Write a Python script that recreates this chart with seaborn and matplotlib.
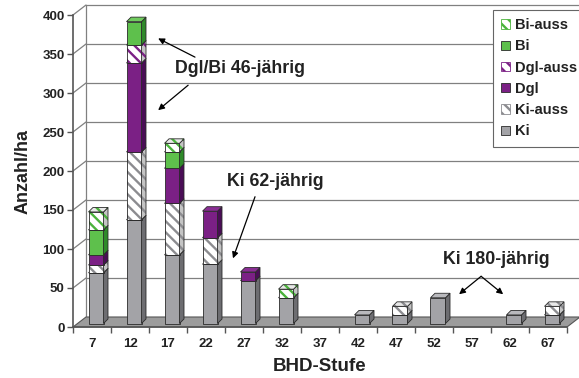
import matplotlib
matplotlib.use("Agg")
import matplotlib.pyplot as plt
from matplotlib.patches import Polygon, Patch
import seaborn as sns

# Diameter classes (BHD-Stufe) and stem numbers per hectare
stufen = [7, 12, 17, 22, 27, 32, 37, 42, 47, 52, 57, 62, 67]
ki = [65, 133, 88, 76, 55, 33, 0, 11, 11, 33, 0, 11, 11]
ki_auss = [10, 87, 66, 34, 0, 0, 0, 0, 11, 0, 0, 0, 11]
dgl = [13, 114, 45, 34, 11, 0, 0, 0, 0, 0, 0, 0, 0]
dgl_auss = [0, 23, 0, 0, 0, 0, 0, 0, 0, 0, 0, 0, 0]
bi = [32, 30, 21, 0, 0, 0, 0, 0, 0, 0, 0, 0, 0]
bi_auss = [23, 0, 11, 0, 0, 11, 0, 0, 0, 0, 0, 0, 0]

y_ticks = [0, 50, 100, 150, 200, 250, 300, 350, 400]

sns.set_theme(style="white")
plt.rcParams["font.family"] = ["Liberation Sans", "DejaVu Sans"]
plt.rcParams["font.weight"] = "bold"
plt.rcParams["hatch.linewidth"] = 1.7

GRAY = ("#a3a3a7", "#6d6d71", "#b9b9bd")
PURPLE = ("#7b2085", "#4a0d56", "#8a2e94")
GREEN = ("#5ec04c", "#2f8a2a", "#70cc5e")

# name, values, (front, side, top), hatch colour or None
series = [
    ("Ki", ki, GRAY, None),
    ("Ki-auss", ki_auss, GRAY, "#8c8c90"),
    ("Dgl", dgl, PURPLE, None),
    ("Dgl-auss", dgl_auss, PURPLE, "#7b2085"),
    ("Bi", bi, GREEN, None),
    ("Bi-auss", bi_auss, GREEN, "#4bb33c"),
]
HATCH = "\\\\\\"
OUTLINE = "#2a2a2a"

W, H = 579, 378
fig = plt.figure(figsize=(W / 100, H / 100), dpi=100)
ax_l, ax_b, ax_w, ax_h = 73, 327, 494, 312
ax = fig.add_axes([ax_l / W, (H - ax_b) / H, ax_w / W, ax_h / H])
n = len(stufen)
ax.set_xlim(-0.5, n - 0.5)
ax.set_ylim(0, 400)
PX = ax_w / n          # pixels per category
PY = ax_h / 400        # pixels per unit


def off(dx, dy):
    return dx / PX, dy / PY


# walls and floor of the 3D frame
WX, WY = off(13, 10)
wall_kw = dict(color="#808080", lw=0.9, clip_on=False, zorder=1)
for v in y_ticks[1:]:
    ax.plot([-0.5 + WX, n - 0.5 + WX], [v + WY, v + WY], **wall_kw)
    ax.plot([-0.5, -0.5 + WX], [v, v + WY], **wall_kw)
ax.plot([-0.5 + WX, -0.5 + WX], [WY, 400 + WY], **wall_kw)
floor = Polygon([(-0.5, 0), (n - 0.5, 0), (n - 0.5 + WX, WY), (-0.5 + WX, WY)],
                closed=True, facecolor="#9c9c9c", edgecolor="#555555", lw=0.8,
                clip_on=False, zorder=2)
ax.add_patch(floor)

# stacked 3D columns
BX, BY = off(4, 3.5)
DX, DY = off(4.5, 4.5)
BW = 15 / PX


def face(pts, fc, z, hc=None):
    if hc is None:
        ax.add_patch(Polygon(pts, closed=True, facecolor=fc, edgecolor=OUTLINE,
                             lw=0.6, clip_on=False, zorder=z))
    else:
        ax.add_patch(Polygon(pts, closed=True, facecolor=fc, edgecolor=hc,
                             hatch=HATCH, lw=0, clip_on=False, zorder=z))
        ax.add_patch(Polygon(pts, closed=True, fill=False, edgecolor=OUTLINE,
                             lw=0.6, clip_on=False, zorder=z))


bottom = [0.0] * n
for k, (name, vals, (fc, sc, tc), hc) in enumerate(series):
    z = 3 + k
    idx = [i for i in range(n) if vals[i] > 0]
    xs = [i + BX for i in idx]
    hs = [vals[i] for i in idx]
    bs = [bottom[i] + BY for i in idx]
    if hc is None:
        ax.bar(xs, hs, bottom=bs, width=BW, color=fc, edgecolor=OUTLINE,
               linewidth=0.6, zorder=z, clip_on=False)
    else:
        ax.bar(xs, hs, bottom=bs, width=BW, color="white", edgecolor=hc,
               hatch=HATCH, linewidth=0, zorder=z, clip_on=False)
        ax.bar(xs, hs, bottom=bs, width=BW, fill=False, edgecolor=OUTLINE,
               linewidth=0.6, zorder=z, clip_on=False)
    for i in idx:
        x0 = i + BX - BW / 2
        x1 = i + BX + BW / 2
        y0 = bottom[i] + BY
        y1 = y0 + vals[i]
        side = [(x1, y0), (x1 + DX, y0 + DY), (x1 + DX, y1 + DY), (x1, y1)]
        top = [(x0, y1), (x1, y1), (x1 + DX, y1 + DY), (x0 + DX, y1 + DY)]
        if hc is None:
            face(side, sc, z)
            face(top, tc, z)
        else:
            face(side, "#c4c4c4", z, hc)
            face(top, "#e8e8e8", z, hc)
        bottom[i] += vals[i]

# axes styling
for s in ("top", "right"):
    ax.spines[s].set_visible(False)
for s in ("left", "bottom"):
    ax.spines[s].set_color("#555555")
    ax.spines[s].set_linewidth(1.2)
    ax.spines[s].set_zorder(20)
ax.set_yticks(y_ticks)
ax.set_yticklabels([str(v) for v in y_ticks], fontsize=9.5, fontweight="bold")
ax.set_xticks(range(n))
ax.set_xticklabels([str(s) for s in stufen], fontsize=9.5, fontweight="bold")
ax.set_xticks([i - 0.5 for i in range(n + 1)], minor=True)
ax.tick_params(axis="y", left=True, direction="out", length=4, width=1,
               color="#555555", pad=2, labelcolor="#222222")
ax.tick_params(axis="x", which="major", bottom=True, length=0, pad=8,
               labelcolor="#222222")
ax.tick_params(axis="x", which="minor", bottom=True, direction="out",
               length=4, width=1, color="#555555")
ax.set_ylabel("Anzahl/ha", fontsize=13, fontweight="bold", labelpad=8,
              color="#222222")
ax.set_xlabel("BHD-Stufe", fontsize=13.5, fontweight="bold", labelpad=6,
              color="#222222")
ax.grid(False)

# annotations
txt_kw = dict(fontsize=12.8, fontweight="bold", color="#222222", ha="center",
              va="center", zorder=30)
arr = dict(arrowstyle="-|>", color="black", lw=0.9, mutation_scale=9,
           shrinkA=0, shrinkB=0)
ax.text(3.89, 331, "Dgl/Bi 46-jährig", **txt_kw)
ax.annotate("", xy=(1.74, 370), xytext=(2.71, 346), arrowprops=arr,
            annotation_clip=False)
ax.annotate("", xy=(1.74, 278), xytext=(2.53, 310), arrowprops=arr,
            annotation_clip=False)
ax.text(4.82, 187, "Ki 62-jährig", **txt_kw)
ax.annotate("", xy=(3.71, 88), xytext=(4.29, 167), arrowprops=arr,
            annotation_clip=False)
ax.text(10.63, 86, "Ki 180-jährig", **txt_kw)
ax.annotate("", xy=(9.66, 42), xytext=(10.24, 65), arrowprops=arr,
            annotation_clip=False)
ax.annotate("", xy=(10.82, 42), xytext=(10.24, 65), arrowprops=arr,
            annotation_clip=False)

# legend, top series first
handles = []
for name, vals, (fc, sc, tc), hc in reversed(series):
    if hc is None:
        handles.append(Patch(facecolor=fc, edgecolor=OUTLINE, lw=0.6, label=name))
    else:
        handles.append(Patch(facecolor="white", edgecolor=hc, hatch=HATCH,
                             lw=0.6, label=name))
leg = ax.legend(handles=handles, loc="upper left",
                bbox_to_anchor=(493 / W, 1 - 10 / H), bbox_transform=fig.transFigure,
                frameon=True, fancybox=False, framealpha=1, edgecolor="#666666",
                prop=dict(family=["Liberation Sans", "DejaVu Sans"], size=10.5,
                          weight="bold"),
                handlelength=0.6, handleheight=0.6, labelspacing=0.5,
                handletextpad=0.35, borderpad=0.55, borderaxespad=0)
for t in leg.get_texts():
    t.set_fontweight("bold")
    t.set_color("#222222")
leg.get_frame().set_linewidth(0.8)
leg.set_zorder(40)

fig.savefig("out.png", dpi=100)
